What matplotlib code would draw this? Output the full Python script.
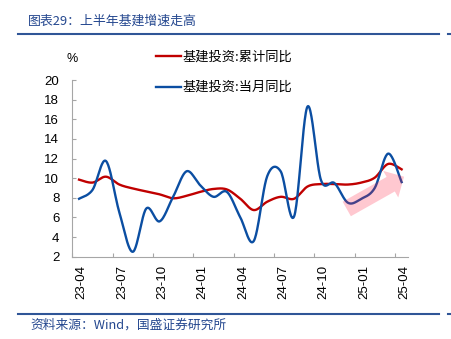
# plot.py
# ---------------------------------------
# 基建投资增速：累计同比 vs 当月同比
#   - smooth lines like the Excel original
#   - pink arrow marks the rebound in 2025
# ---------------------------------------

import numpy as np
import matplotlib.pyplot as plt
from matplotlib.lines import Line2D

plt.rcParams['font.family'] = ['Liberation Sans', 'Noto Sans CJK SC']

# monthly data, 2023-04 .. 2025-04
months = ["23-04", "23-05", "23-06", "23-07", "23-08", "23-09", "23-10", "23-11", "23-12",
          "24-01", "24-02", "24-03", "24-04", "24-05", "24-06", "24-07", "24-08", "24-09",
          "24-10", "24-11", "24-12", "25-01", "25-02", "25-03", "25-04"]
cum_yoy = [9.85, 9.55, 10.15, 9.35, 8.95, 8.65, 8.35, 7.95, 8.2,
           8.6, 8.9, 8.85, 7.9, 6.75, 7.6, 8.1, 7.9, 9.15,
           9.4, 9.4, 9.35, 9.55, 10.05, 11.45, 10.9]
month_yoy = [7.9, 8.8, 11.75, 6.5, 2.5, 6.9, 5.6, 8.1, 10.7,
             9.3, 8.1, 8.6, 6.0, 3.6, 10.2, 10.7, 6.1, 17.3,
             9.8, 9.5, 7.5, 7.9, 9.0, 12.5, 9.6]
tick_labels = months[::3]

RED = "#c00000"
BLUE = "#0b4ea2"
NAVY = "#24478f"


def smooth(y, n=24):
    # Excel-style smoothed line (Catmull-Rom bezier through every point)
    y = np.asarray(y, float)
    pts = np.column_stack([np.arange(len(y), dtype=float), y])
    p = np.vstack([pts[0], pts, pts[-1]])
    t = np.linspace(0, 1, n, endpoint=False)[:, None]
    segs = []
    for i in range(1, len(p) - 2):
        p0, p1, p2, p3 = p[i - 1], p[i], p[i + 1], p[i + 2]
        c1 = p1 + (p2 - p0) / 6
        c2 = p2 - (p3 - p1) / 6
        segs.append((1 - t) ** 3 * p1 + 3 * (1 - t) ** 2 * t * c1
                    + 3 * (1 - t) * t ** 2 * c2 + t ** 3 * p2)
    segs.append(pts[-1:])
    out = np.vstack(segs)
    return out[:, 0], out[:, 1]


fig = plt.figure(figsize=(4.52, 3.39), dpi=100)
ax = fig.add_axes([0.16, 0.2428, 0.7434, 0.5212])

x1, y1 = smooth(cum_yoy)
x2, y2 = smooth(month_yoy)
ax.plot(x1, y1, color=RED, lw=1.7, zorder=3)
ax.plot(x2, y2, color=BLUE, lw=1.7, zorder=4)

# rebound arrow
ax.annotate("", xy=(24.18, 10.15), xytext=(19.92, 6.86),
            arrowprops=dict(arrowstyle="simple,head_length=0.55,head_width=1.1,tail_width=0.6",
                            mutation_scale=20, fc="#ff1a3c", ec="none", alpha=0.24,
                            shrinkA=0, shrinkB=0),
            zorder=6)

ax.set_xlim(-0.5, 24.5)
ax.set_ylim(2, 20)
ax.set_yticks(np.arange(2, 21, 2))

# tick marks between categories, labels near the category
ax.set_xticks(np.arange(-0.5, 24, 3))
ax.set_xticklabels([])
ax.set_xticks(np.arange(0, 25, 3) + 0.19, minor=True)
ax.set_xticklabels(tick_labels, minor=True, rotation=90, fontsize=9.5)
ax.tick_params(axis="x", which="minor", length=0, pad=6)
ax.tick_params(axis="x", which="major", direction="in", length=3, color="#a6a6a6")
ax.tick_params(axis="y", direction="in", length=3, color="#a6a6a6", pad=9.4, labelsize=9.5)

for side in ["top", "right"]:
    ax.spines[side].set_visible(False)
for side in ["left", "bottom"]:
    ax.spines[side].set_color("#a6a6a6")
    ax.spines[side].set_linewidth(0.8)

fig.text(72 / 452, 1 - 59 / 339, "%", ha="center", va="center", fontsize=9)

handles = [Line2D([], [], color=RED, lw=1.7), Line2D([], [], color=BLUE, lw=1.7)]
fig.legend(handles, ["基建投资:累计同比", "基建投资:当月同比"],
           loc="upper left", bbox_to_anchor=(156 / 452, 1 - 51 / 339),
           frameon=False, prop={"family": ["Noto Sans CJK SC"], "size": 9.5},
           handlelength=1.9, handletextpad=0.1, labelspacing=1.3,
           borderpad=0, borderaxespad=0)

# header and footer
fig.text(28 / 452, 1 - 21 / 339, "图表29：上半年基建增速走高", fontsize=9.3, color=NAVY,
         va="center", family=["Noto Sans CJK SC"])
fig.add_artist(Line2D([18.3 / 452, 439.3 / 452], [1 - 34 / 339] * 2, color="#2f5597", lw=1.5))
fig.add_artist(Line2D([448 / 452, 452 / 452], [1 - 34 / 339] * 2, color="#2f5597", lw=1.5))
fig.add_artist(Line2D([18.3 / 452, 439.3 / 452], [1 - 314.3 / 339] * 2, color="#2f5597", lw=1.5))
fig.add_artist(Line2D([448 / 452, 452 / 452], [1 - 314.3 / 339] * 2, color="#2f5597", lw=1.5))
fig.text(30 / 452, 1 - 325 / 339, "资料来源：Wind，国盛证券研究所", fontsize=9.2, color=NAVY,
         va="center", family=["Noto Sans CJK SC", "Liberation Sans"])

fig.savefig("out.png", dpi=100)
